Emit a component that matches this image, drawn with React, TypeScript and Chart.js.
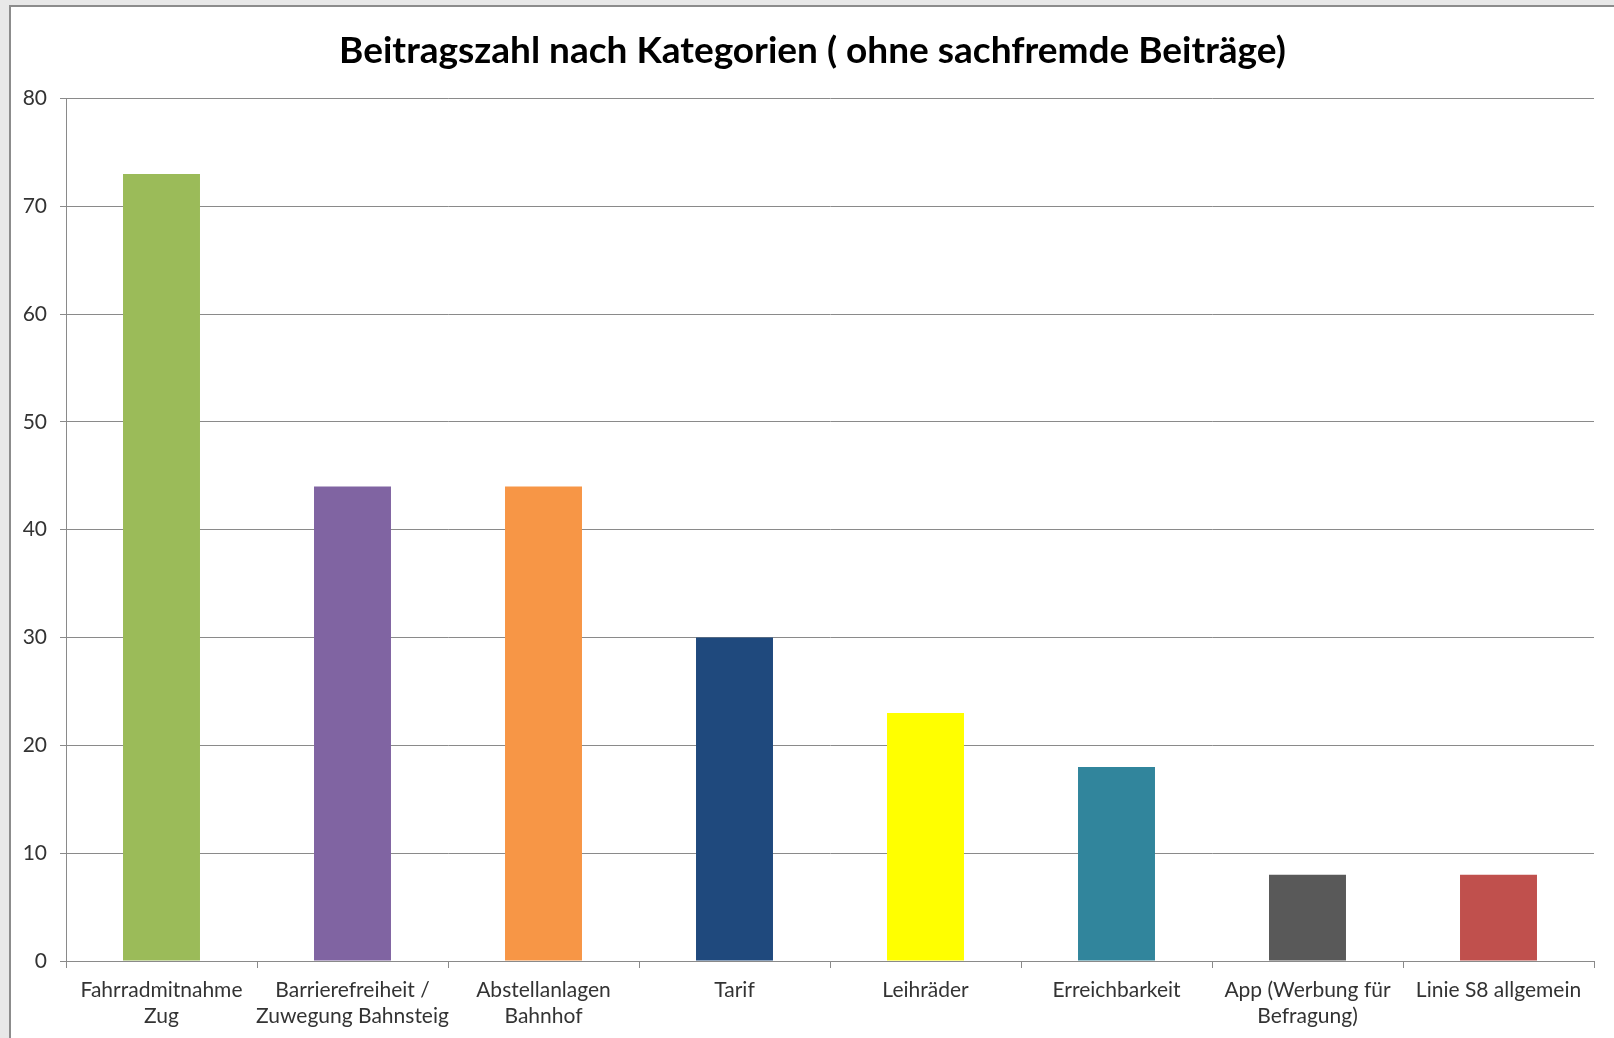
import React, { useEffect, useRef } from "react";
import { Chart, registerables } from "chart.js";

Chart.register(...registerables);

const TITLE = "Beitragszahl nach Kategorien ( ohne sachfremde Beiträge)";
const categories: string[][] = [
  ["Fahrradmitnahme", "Zug"],
  ["Barrierefreiheit /", "Zuwegung Bahnsteig"],
  ["Abstellanlagen", "Bahnhof"],
  ["Tarif"],
  ["Leihräder"],
  ["Erreichbarkeit"],
  ["App (Werbung für", "Befragung)"],
  ["Linie S8 allgemein"],
];
const values: number[] = [73, 44, 44, 30, 23, 18, 8, 8];
const barColors: string[] = [
  "#9BBB59",
  "#8064A2",
  "#F79646",
  "#1F497D",
  "#FFFF00",
  "#31859C",
  "#595959",
  "#C0504D",
];
const yMin = 0;
const yMax = 80;
const yStep = 10;

const FONT = "Lato, 'Open Sans', sans-serif";
const W = 1603;
const H = 1031;

export default function App() {
  const ref = useRef<HTMLCanvasElement | null>(null);

  useEffect(() => {
    if (!ref.current) return;
    const chart = new Chart(ref.current, {
      type: "bar",
      data: {
        labels: categories,
        datasets: [
          {
            data: values,
            backgroundColor: barColors,
            borderWidth: 0,
            categoryPercentage: 1,
            barPercentage: 0.403,
          },
        ],
      },
      options: {
        responsive: false,
        animation: false,
        layout: { padding: { left: 20, right: 20, top: 0, bottom: 0 } },
        plugins: {
          legend: { display: false },
          tooltip: { enabled: false },
          title: {
            display: true,
            text: TITLE,
            color: "#000000",
            font: { family: FONT, size: 37, weight: "bold", lineHeight: 1.2 },
            padding: { top: 22, bottom: 25 },
          },
        },
        scales: {
          x: {
            grid: {
              display: true,
              drawOnChartArea: false,
              drawTicks: true,
              tickLength: 7,
              color: "#8a8a8a",
              offset: true,
            },
            border: { display: true, color: "#8a8a8a", width: 1 },
            ticks: {
              color: "#333333",
              font: { family: FONT, size: 21, lineHeight: 1.25 },
              padding: 9,
              maxRotation: 0,
              minRotation: 0,
              autoSkip: false,
            },
            afterFit: (s: any) => {
              s.height = 77;
            },
          },
          y: {
            min: yMin,
            max: yMax,
            ticks: {
              stepSize: yStep,
              color: "#333333",
              font: { family: FONT, size: 21 },
              padding: 13,
            },
            grid: {
              color: "#8a8a8a",
              lineWidth: 1,
              tickLength: 6,
              drawTicks: true,
            },
            border: { display: true, color: "#8a8a8a", width: 1 },
            afterFit: (s: any) => {
              s.width = 35;
              // let tick labels extend past the narrow axis box without clipping
              s._computeLabelArea = () => undefined;
            },
          },
        },
      },
    });
    return () => chart.destroy();
  }, []);

  return (
    <div style={{ position: "fixed", left: 0, top: 0, width: 1614, height: 1038, background: "#e8e8e8", overflow: "hidden" }}>
      <div
        style={{
          position: "absolute",
          left: 9,
          top: 5,
          width: 1614 - 9,
          height: 1038 - 5,
          background: "#ffffff",
          borderLeft: "2px solid #8c8c8c",
          borderTop: "2px solid #8c8c8c",
          boxSizing: "border-box",
        }}
      >
        <canvas ref={ref} width={W} height={H} style={{ display: "block", width: W, height: H }} />
      </div>
    </div>
  );
}
